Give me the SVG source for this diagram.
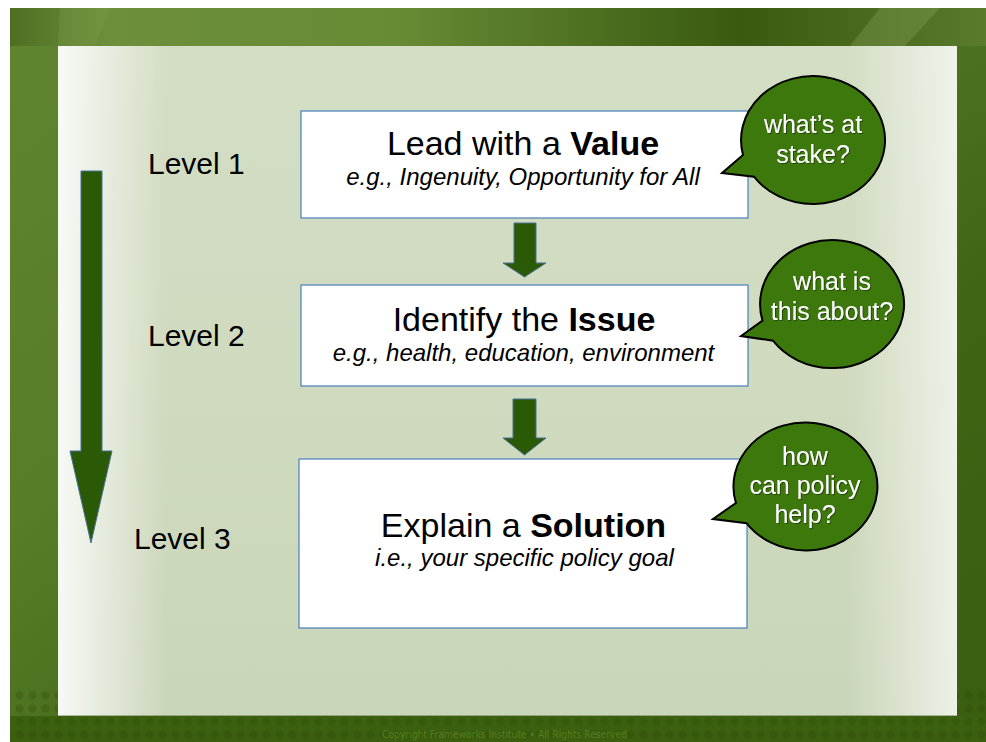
<svg xmlns="http://www.w3.org/2000/svg" width="986" height="742" viewBox="0 0 986 742">
  <defs>
    <linearGradient id="bgGrad" x1="0" y1="0" x2="1" y2="1">
      <stop offset="0" stop-color="#5f8530"/>
      <stop offset="0.35" stop-color="#587d28"/>
      <stop offset="0.7" stop-color="#3f6414"/>
      <stop offset="1" stop-color="#3a5e10"/>
    </linearGradient>
    <linearGradient id="topGrad" x1="0" y1="0" x2="1" y2="0">
      <stop offset="0" stop-color="#4f6e22"/>
      <stop offset="0.1" stop-color="#6d8f3c"/>
      <stop offset="0.4" stop-color="#678a35"/>
      <stop offset="0.75" stop-color="#395a10"/>
      <stop offset="1" stop-color="#5a7a2c"/>
    </linearGradient>
    <linearGradient id="bottomGrad" x1="0" y1="0" x2="0" y2="1">
      <stop offset="0" stop-color="#3c6210"/>
      <stop offset="1" stop-color="#3a5e0e"/>
    </linearGradient>
    <linearGradient id="panelBase" x1="0" y1="0" x2="0" y2="1">
      <stop offset="0" stop-color="#d3dec5"/>
      <stop offset="0.5" stop-color="#cfdabf"/>
      <stop offset="1" stop-color="#cad6ba"/>
    </linearGradient>
    <linearGradient id="panelEdges" x1="0" y1="0" x2="1" y2="0">
      <stop offset="0" stop-color="#ffffff" stop-opacity="0.85"/>
      <stop offset="0.12" stop-color="#ffffff" stop-opacity="0"/>
      <stop offset="0.88" stop-color="#ffffff" stop-opacity="0"/>
      <stop offset="1" stop-color="#ffffff" stop-opacity="0.65"/>
    </linearGradient>
    <pattern id="dots" x="0" y="0" width="13" height="13" patternUnits="userSpaceOnUse">
      <circle cx="6.5" cy="6.5" r="4.2" fill="#2c4a08" fill-opacity="0.3"/>
    </pattern>
    <filter id="tshadow" x="-10%" y="-10%" width="130%" height="140%">
      <feDropShadow dx="1" dy="1" stdDeviation="0.6" flood-color="#1a2e05" flood-opacity="0.7"/>
    </filter>
    <style>
      .box { fill: #ffffff; stroke: #4a7ebb; stroke-width: 1.2; }
      .title { font-family: "Liberation Sans", Arial, sans-serif; font-size: 34px; fill: #000; text-anchor: middle; }
      .title .b { font-weight: bold; }
      .sub { font-family: "Liberation Sans", Arial, sans-serif; font-size: 24px; font-style: italic; fill: #000; text-anchor: middle; }
      .level { font-family: "Liberation Sans", Arial, sans-serif; font-size: 30px; fill: #000; }
      .bubble { fill: #3c780c; stroke: #000; stroke-width: 2; stroke-linejoin: miter; }
      .btext { font-family: "Liberation Sans", Arial, sans-serif; font-size: 25px; fill: #ffffff; text-anchor: middle; filter: url(#tshadow); }
      .arrow { fill: #2b5a06; stroke: #4a6f9a; stroke-width: 1; }
      .copy { font-family: "Liberation Sans Narrow", "DejaVu Sans Condensed", "Liberation Sans", sans-serif; font-size: 10px; fill: #567f1e; }
    </style>
  </defs>

  <!-- page background -->
  <rect x="0" y="0" width="986" height="742" fill="#ffffff"/>
  <rect x="10" y="8" width="976" height="734" fill="url(#bgGrad)"/>
  <rect x="10" y="8" width="976" height="38" fill="url(#topGrad)"/>
  <polygon points="60,8 110,8 95,46 58,46" fill="#7a9a48" fill-opacity="0.35"/>
  <polygon points="880,8 940,8 905,46 850,46" fill="#8aa35a" fill-opacity="0.35"/>
  <rect x="10" y="716" width="976" height="26" fill="url(#bottomGrad)"/>
  <rect x="10" y="690" width="976" height="52" fill="url(#dots)"/>

  <!-- panel -->
  <rect x="58" y="46" width="899" height="670" fill="url(#panelBase)"/>
  <rect x="58" y="46" width="899" height="670" fill="url(#panelEdges)"/>
  <line x1="58" y1="716" x2="957" y2="716" stroke="#3b5a14" stroke-opacity="0.5" stroke-width="1.5"/>

  <!-- connectors -->
  <g id="connectors">
    <polygon class="arrow" points="81,171 102,171 102,451 112,451 91,543 70,451 81,451"/>
    <polygon class="arrow" points="514,223 536,223 536,263 546,263 524.5,277 503,263 514,263"/>
    <polygon class="arrow" points="513,399 536,399 536,438 546,438 524.5,455 503,438 513,438"/>
  </g>

  <!-- level labels -->
  <g id="level1"><text class="level" x="148" y="174">Level 1</text></g>
  <g id="level2"><text class="level" x="148" y="346">Level 2</text></g>
  <g id="level3"><text class="level" x="134" y="549">Level 3</text></g>

  <!-- boxes -->
  <g id="box-value">
    <rect class="box" x="301" y="111" width="447" height="107"/>
    <text class="title" x="523" y="155">Lead with a <tspan class="b">Value</tspan></text>
    <text class="sub" x="523" y="185">e.g., Ingenuity, Opportunity for All</text>
  </g>
  <g id="box-issue">
    <rect class="box" x="301" y="285" width="447" height="101"/>
    <text class="title" x="524" y="331">Identify the <tspan class="b">Issue</tspan></text>
    <text class="sub" x="523.5" y="361">e.g., health, education, environment</text>
  </g>
  <g id="box-solution">
    <rect class="box" x="299" y="459" width="448" height="169"/>
    <text class="title" x="523.5" y="537">Explain a <tspan class="b">Solution</tspan></text>
    <text class="sub" x="524.5" y="566">i.e., your specific policy goal</text>
  </g>

  <!-- bubbles -->
  <g id="bubble1">
    <path class="bubble" d="M743,154.9 L722,173 L754,176.7 A72,64 0 1 0 743,154.9 Z"/>
    <text class="btext" x="813" y="133">what’s at</text>
    <text class="btext" x="813" y="163">stake?</text>
  </g>
  <g id="bubble2">
    <path class="bubble" d="M762.5,320.6 L741,336 L773,340.7 A72,64 0 1 0 762.5,320.6 Z"/>
    <text class="btext" x="832" y="290">what is</text>
    <text class="btext" x="832" y="320">this about?</text>
  </g>
  <g id="bubble3">
    <path class="bubble" d="M735.9,503 L713,519 L746.5,523.2 A72,64 0 1 0 735.9,503 Z"/>
    <text class="btext" x="805" y="465">how</text>
    <text class="btext" x="805" y="494">can policy</text>
    <text class="btext" x="805" y="523">help?</text>
  </g>

  <text class="copy" x="382" y="738" textLength="245" lengthAdjust="spacingAndGlyphs">Copyright Frameworks Institute • All Rights Reserved</text>
</svg>
